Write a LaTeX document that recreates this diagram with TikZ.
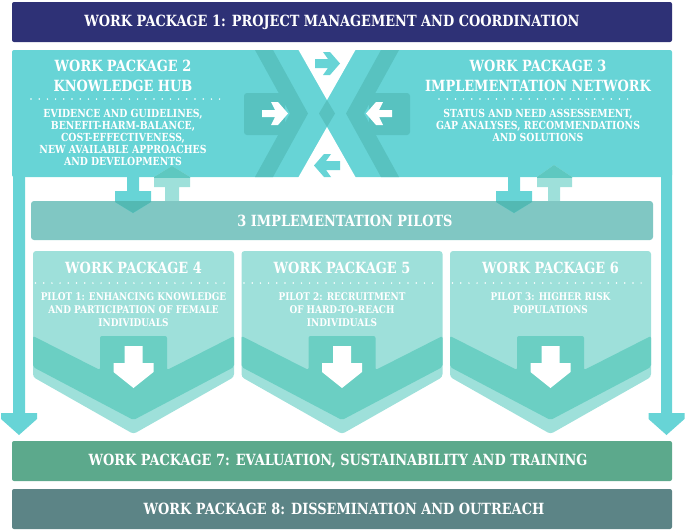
\documentclass[tikz,border=0pt]{standalone}
\usepackage{fontspec}
\setmainfont{DejaVu Serif}[FakeStretch=0.84,UprightFont=* Bold]
\definecolor{navy}{HTML}{2E3176}
\definecolor{band}{HTML}{67D4D6}
\definecolor{banddk}{HTML}{58C2C0}
\definecolor{barc}{HTML}{80C7C3}
\definecolor{barovl}{HTML}{53B9B3}
\definecolor{mint}{HTML}{9EE0DA}
\definecolor{mintovl}{HTML}{5EC8C0}
\definecolor{pilotdk}{HTML}{6BCFC3}
\definecolor{wpseven}{HTML}{5CA98C}
\definecolor{wpeight}{HTML}{5C8486}
\tikzset{
  hd/.style={text=white, font=\fontsize{15.4}{20}\selectfont, align=center, inner sep=0pt},
  bd/.style={text=white, font=\fontsize{11.1}{12.2}\selectfont, align=center, inner sep=0pt},
  pbd/.style={text=white, font=\fontsize{10.6}{13}\selectfont, align=center, inner sep=0pt},
  dots/.style={white, line width=1.7pt, line cap=round, dash pattern=on 0pt off 8.2pt},
  box/.style={rounded corners=2pt, inner sep=0pt, minimum width=660pt, minimum height=40pt},
}
\begin{document}
\begin{tikzpicture}[x=1pt,y=-1pt]
\useasboundingbox (0,0) rectangle (685,531);
% WP1
\node[box, fill=navy] (wp1) at (342,22) {};
\node[hd] (wp1t) at (332,22) {WORK PACKAGE 1: PROJECT MANAGEMENT AND COORDINATION};
% band WP2/WP3
\fill[band, rounded corners=2pt] (12,50) rectangle (672,177);
% side arrows
\fill[band] (13,170) -- (25,170) -- (25,413) -- (37,413) -- (37,419) -- (19,435) -- (1,419) -- (1,413) -- (13,413) -- cycle;
\fill[band] (661,170) -- (672,170) -- (672,413) -- (684.5,413) -- (684.5,419) -- (666.5,435) -- (648.5,419) -- (648.5,413) -- (661,413) -- cycle;
% dark rects and chevrons
\fill[banddk, rounded corners=3pt] (244,93) rectangle (285,135);
\fill[banddk, rounded corners=3pt] (369,93) rectangle (410,135);
\fill[banddk] (255,50) -- (273,50) -- (308,113.5) -- (273,177) -- (255,177) -- (290,113.5) -- cycle;
\fill[banddk] (399,50) -- (381,50) -- (346,113.5) -- (381,177) -- (399,177) -- (364,113.5) -- cycle;
\fill[banddk] (319,113.5) -- (327,100) -- (335,113.5) -- (327,127) -- cycle;
\fill[white] (298,49) -- (356,49) -- (327,100) -- cycle;
\fill[white] (298,178) -- (356,178) -- (327,127) -- cycle;
% small arrows
\fill[band] (315,59) -- (328,59) -- (323,52) -- (330,52) -- (340,63.5) -- (330,75) -- (323,75) -- (328,68) -- (315,68) -- cycle;
\fill[band] (340,161) -- (326,161) -- (331,154) -- (324,154) -- (314,165.5) -- (324,177) -- (331,177) -- (326,170) -- (340,170) -- cycle;
\fill[white] (262,110) -- (275,110) -- (271,102) -- (278,102) -- (288,113.5) -- (278,125) -- (271,125) -- (275,117) -- (262,117) -- cycle;
\fill[white] (392,110) -- (379,110) -- (383,102) -- (376,102) -- (366,113.5) -- (376,125) -- (383,125) -- (379,117) -- (392,117) -- cycle;
% WP2 / WP3 texts
\node[hd] (wp2t) at (123,76) {WORK PACKAGE 2\\KNOWLEDGE HUB};
\draw[dots] (31,99) -- (221,99);
\node[bd] (wp2b) at (123,137.5) {EVIDENCE AND GUIDELINES,\\BENEFIT-HARM-BALANCE,\\COST-EFFECTIVENESS,\\NEW AVAILABLE APPROACHES\\AND DEVELOPMENTS};
\node[hd] (wp3t) at (538,76) {WORK PACKAGE 3\\IMPLEMENTATION NETWORK};
\draw[dots] (439,99) -- (634,99);
\node[bd] (wp3b) at (538,125.5) {STATUS AND NEED ASSESSEMENT,\\GAP ANALYSES, RECOMMENDATIONS\\AND SOLUTIONS};
% up arrows (mint)
\fill[mint] (165,205) -- (165,187) -- (154,187) -- (154,177) -- (172,166) -- (190,177) -- (190,187) -- (179,187) -- (179,205) -- cycle;
\fill[mint] (548,205) -- (548,187) -- (537,187) -- (537,177) -- (554,165) -- (572,177) -- (572,187) -- (560,187) -- (560,205) -- cycle;
\begin{scope}
\clip (12,50) rectangle (672,177);
\fill[mintovl] (165,205) -- (165,187) -- (154,187) -- (154,177) -- (172,166) -- (190,177) -- (190,187) -- (179,187) -- (179,205) -- cycle;
\fill[mintovl] (548,205) -- (548,187) -- (537,187) -- (537,177) -- (554,165) -- (572,177) -- (572,187) -- (560,187) -- (560,205) -- cycle;
\end{scope}
% implementation pilots bar
\node[fill=barc, rounded corners=3pt, inner sep=0pt, minimum width=622pt, minimum height=39pt] (pilots) at (342,220.5) {};
% down arrows
\fill[band] (127,170) -- (139,170) -- (139,191) -- (151,191) -- (151,202) -- (133,213) -- (115,202) -- (115,191) -- (127,191) -- cycle;
\fill[band] (508,170) -- (520,170) -- (520,191) -- (532,191) -- (532,202) -- (514,213) -- (496,202) -- (496,191) -- (508,191) -- cycle;
\begin{scope}
\clip (31,201) rectangle (653,240);
\fill[barovl] (127,170) -- (139,170) -- (139,191) -- (151,191) -- (151,202) -- (133,213) -- (115,202) -- (115,191) -- (127,191) -- cycle;
\fill[barovl] (508,170) -- (520,170) -- (520,191) -- (532,191) -- (532,202) -- (514,213) -- (496,202) -- (496,191) -- (508,191) -- cycle;
\end{scope}
\node[hd] (pilotst) at (345,221) {3 IMPLEMENTATION PILOTS};
% pilot boxes
\foreach \cx/\n/\t in {133.5/4/{PILOT 1: ENHANCING KNOWLEDGE\\AND PARTICIPATION OF FEMALE\\INDIVIDUALS},342/5/{PILOT 2: RECRUITMENT\\OF HARD-TO-REACH\\INDIVIDUALS},550.5/6/{PILOT 3: HIGHER RISK\\POPULATIONS}}{
  \fill[mint, rounded corners=3pt] ({\cx-100.5},377) -- ({\cx-100.5},251) -- ({\cx+100.5},251) -- ({\cx+100.5},377) -- (\cx,434) -- cycle;
  \fill[pilotdk, rounded corners=2pt] ({\cx-100.5},336) -- ({\cx-33.5},370) -- ({\cx-33.5},336) -- ({\cx+33.5},336) -- ({\cx+33.5},370) -- ({\cx+100.5},336) -- ({\cx+100.5},367) -- (\cx,420) -- ({\cx-100.5},367) -- cycle;
  \fill[white] ({\cx-9},346) -- ({\cx+9},346) -- ({\cx+9},363) -- ({\cx+20},363) -- ({\cx+20},372) -- (\cx,388) -- ({\cx-20},372) -- ({\cx-20},363) -- ({\cx-9},363) -- cycle;
  \node[hd] (wp\n t) at (\cx,268) {WORK PACKAGE \n};
  \draw[dots] ({\cx-98},283) -- ({\cx+96},283);
  \node[pbd, anchor=north] (wp\n b) at (\cx,292) {\t};
}
% WP7, WP8
\node[box, fill=wpseven] (wp7) at (342,461) {};
\node[hd] (wp7t) at (338,461) {WORK PACKAGE 7: EVALUATION, SUSTAINABILITY AND TRAINING};
\node[box, fill=wpeight] (wp8) at (342,509) {};
\node[hd] (wp8t) at (344,509) {WORK PACKAGE 8: DISSEMINATION AND OUTREACH};
\end{tikzpicture}
\end{document}
